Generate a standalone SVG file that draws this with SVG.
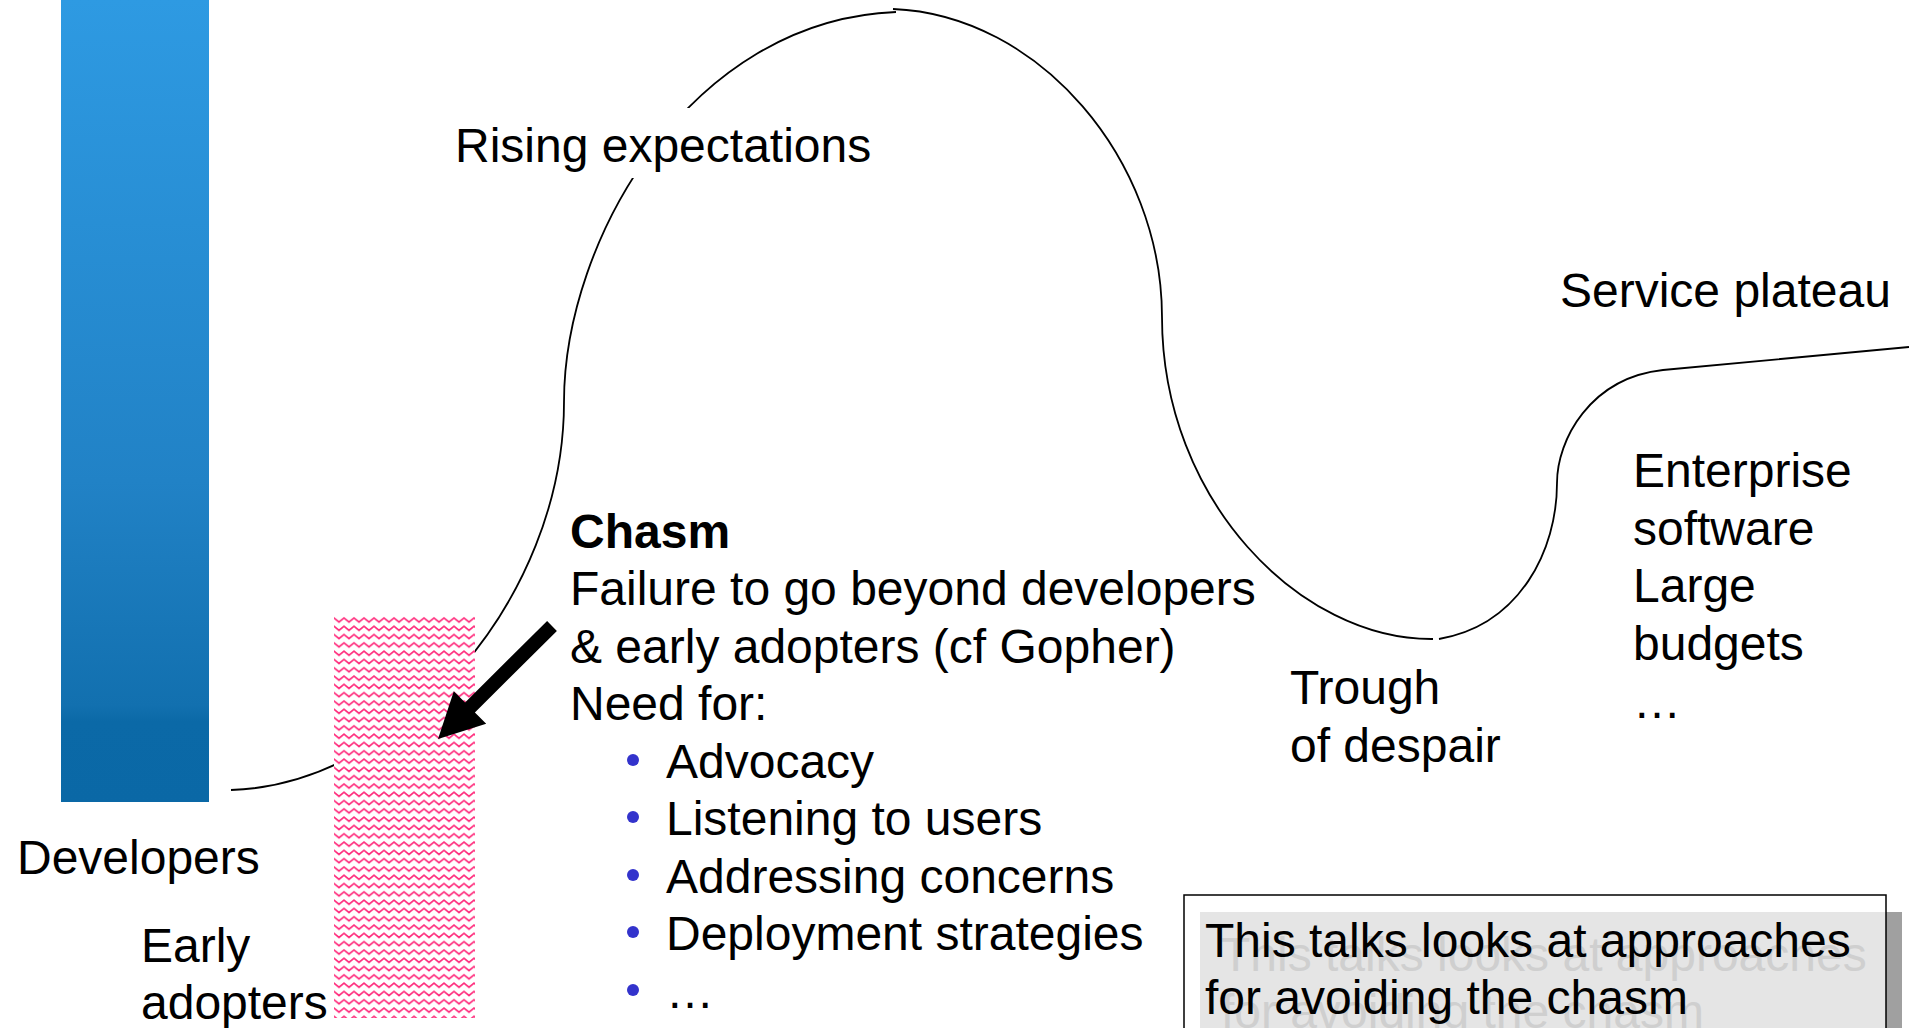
<svg xmlns="http://www.w3.org/2000/svg" width="1909" height="1028" viewBox="0 0 1909 1028">
<style>
  text { font-family: "Liberation Sans", Arial, sans-serif; font-size: 48px; fill: #000; }
  .bold { font-weight: bold; }
  .ghost { fill: #CFCFCF; }
  .curve { fill: none; stroke: #000; stroke-width: 1.8; }
  .bullet { fill: #3333CC; }
</style>
<defs>
  <linearGradient id="blueGrad" x1="0" y1="0" x2="0" y2="1">
    <stop offset="0" stop-color="#2E9AE2"/>
    <stop offset="0.6" stop-color="#2182C6"/>
    <stop offset="0.88" stop-color="#1270AF"/>
    <stop offset="0.9" stop-color="#0B69A7"/>
    <stop offset="1" stop-color="#0A68A6"/>
  </linearGradient>
  <pattern id="zigzag" x="334" y="616" width="10" height="8.3" patternUnits="userSpaceOnUse">
    <rect width="10" height="8.3" fill="#FFFFFF"/>
    <path d="M-5,6 L0,2 L5,6 L10,2 L15,6" fill="none" stroke="#FF2E7E" stroke-width="1.7"/>
  </pattern>
</defs>

<g id="connectors">
  <path class="curve" d="M231,790 C400,785 564,600 564,402 C564,240 690,20 896,12"/>
  <path class="curve" d="M893,9 C1040,15 1162,160 1162,317 C1162,500 1300,640 1433,639"/>
  <path class="curve" d="M1439,639 C1520,625 1557,550 1557,483 C1557,440 1590,378 1663,370 L1909,347"/>
</g>

<g id="developers">
  <rect x="61" y="0" width="148" height="802" fill="url(#blueGrad)"/>
  <text x="17" y="874">Developers</text>
</g>

<g id="early-adopters">
  <rect x="334" y="616" width="141" height="402" fill="url(#zigzag)"/>
  <text x="141" y="962">Early</text>
  <text x="141" y="1019">adopters</text>
</g>

<g id="rising-expectations">
  <rect x="450" y="108" width="425" height="70" fill="#FFFFFF"/>
  <text x="455" y="162">Rising expectations</text>
</g>

<g id="service-plateau">
  <text x="1560" y="307">Service plateau</text>
</g>

<g id="chasm">
  <polygon points="547.1,621 465.1,702.5 453.8,691.2 438,739 486.2,723.8 474.9,712.5 556.9,631" fill="#000"/>
  <text class="bold" x="570" y="548">Chasm</text>
  <text x="570" y="605">Failure to go beyond developers</text>
  <text x="570" y="663">&amp; early adopters (cf Gopher)</text>
  <text x="570" y="720">Need for:</text>
  <circle class="bullet" cx="633" cy="760" r="6"/>
  <text x="666" y="778">Advocacy</text>
  <circle class="bullet" cx="633" cy="817" r="6"/>
  <text x="666" y="835">Listening to users</text>
  <circle class="bullet" cx="633" cy="875" r="6"/>
  <text x="666" y="893">Addressing concerns</text>
  <circle class="bullet" cx="633" cy="932" r="6"/>
  <text x="666" y="950">Deployment strategies</text>
  <circle class="bullet" cx="633" cy="990" r="6"/>
  <text x="666" y="1008">…</text>
</g>

<g id="trough">
  <text x="1290" y="704">Trough</text>
  <text x="1290" y="762">of despair</text>
</g>

<g id="enterprise">
  <text x="1633" y="487">Enterprise</text>
  <text x="1633" y="545">software</text>
  <text x="1633" y="602">Large</text>
  <text x="1633" y="660">budgets</text>
  <text x="1633" y="718">…</text>
</g>

<g id="summary-box">
  <rect x="1184" y="895" width="702" height="140" fill="#FFFFFF"/>
  <rect x="1200" y="912" width="686" height="120" fill="#E5E5E5"/>
  <rect x="1886" y="912" width="16" height="120" fill="#A0A0A0"/>
  <text class="ghost" x="1221" y="971">This talks looks at approaches</text>
  <text class="ghost" x="1221" y="1028">for avoiding the chasm</text>
  <text x="1205" y="957">This talks looks at approaches</text>
  <text x="1205" y="1014">for avoiding the chasm</text>
  <rect x="1184" y="895" width="702" height="140" fill="none" stroke="#000" stroke-width="1.5"/>
</g>
</svg>
